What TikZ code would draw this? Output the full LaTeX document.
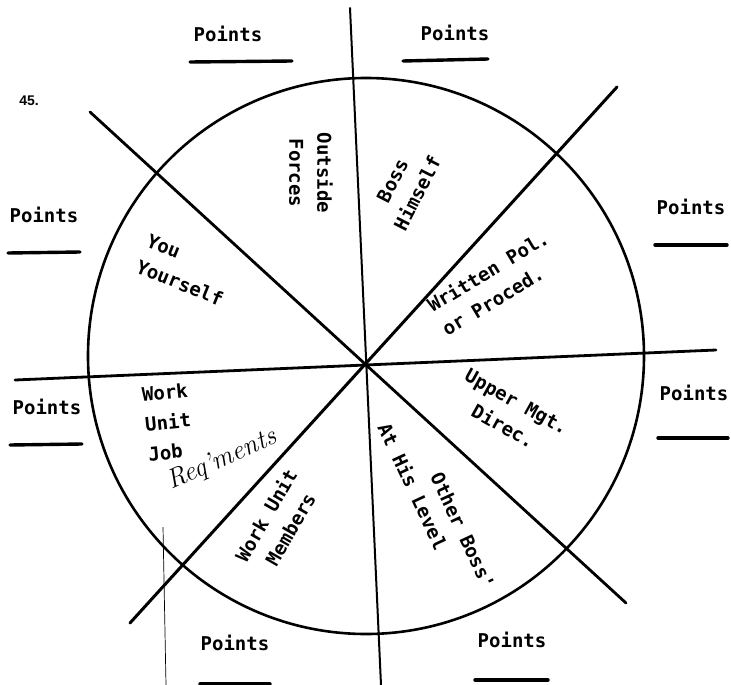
\documentclass[tikz,border=0pt]{standalone}
\usepackage{fontspec}
\usepackage{tikz}
\usetikzlibrary{positioning}
\newfontfamily\typefont{DejaVu Sans Mono}
\newfontfamily\numfont{Liberation Sans}

\begin{document}
\begin{tikzpicture}[
  x=1pt, y=-1pt,
  spoke/.style={line width=2.8pt, line cap=round},
  underline/.style={line width=3.4pt, line cap=round},
  pts/.style={font=\typefont\bfseries\fontsize{19}{24}\selectfont, inner sep=0pt},
  sector/.style={font=\typefont\bfseries\fontsize{19}{28}\selectfont, align=center, inner sep=0pt},
  hand/.style={font=\itshape\fontsize{27}{27}\selectfont, inner sep=0pt}
]
\useasboundingbox (0,0) rectangle (731,685);

% wheel and spokes
\node[draw, circle, line width=2.6pt, minimum size=556pt, inner sep=0pt] (wheel) at (366,356) {};
\coordinate (north) at (350,8);
\coordinate (south) at (381,685);
\coordinate (west) at (15,380);
\coordinate (east) at (716,350);
\coordinate (nw) at (90,112);
\coordinate (se) at (626,603);
\coordinate (ne) at (617,87);
\coordinate (sw) at (130,623);
\draw[spoke, line width=2pt] (north) -- (south);
\draw[spoke] (west) -- (east);
\draw[spoke] (nw) -- (se);
\draw[spoke, line width=3pt] (ne) -- (sw);
\draw[line width=0.7pt] (163,527) -- (166,685);

\node[font=\numfont\bfseries\fontsize{14}{14}\selectfont, inner sep=0pt] (num) at (29,101) {45.};

% points blanks
\node[pts] (ptsTL) at (228,34) {Points};
\node[pts] (ptsTR) at (455,33) {Points};
\node[pts] (ptsLU) at (44,215) {Points};
\node[pts] (ptsRU) at (691,207) {Points};
\node[pts] (ptsLL) at (47,407) {Points};
\node[pts] (ptsRL) at (694,393) {Points};
\node[pts] (ptsBL) at (235,643) {Points};
\node[pts] (ptsBR) at (512,640) {Points};
\draw[underline] (190,62) -- (292,61);
\draw[underline] (403,61) -- (488,59);
\draw[underline] (8,253) -- (80,252);
\draw[underline] (655,245) -- (727,245);
\draw[underline] (10,445) -- (82,444);
\draw[underline] (658,438) -- (728,438);
\draw[underline] (200,684) -- (270,684);
\draw[underline] (475,680) -- (548,680);

% sector labels
\node[sector, rotate=-90] (outside) at (311,173) {Outside\\Forces};
\node[sector, rotate=63] (boss) at (405,187) {Boss\\Himself};
\node[sector, rotate=31, align=left] (written) at (495,283) {Written Pol.\\or Proced.};
\node[sector, rotate=-22, align=left] (you) at (185,270) {You\\Yourself};
\node[sector, rotate=-29] (upper) at (510,414) {Upper Mgt.\\Direc.};
\node[sector, rotate=-65] (other) at (463,531) {Other Boss'};
\node[sector, rotate=-65] (level) at (413,486) {At His Level};
\node[sector, rotate=60] (members) at (278,522) {Work Unit\\Members};
\node[sector, rotate=6, align=left, font=\typefont\bfseries\fontsize{19}{30}\selectfont] (job) at (168,422) {Work\\Unit\\Job};
\node[hand, rotate=24] (req) at (222,460) {Req'ments};
\end{tikzpicture}
\end{document}
